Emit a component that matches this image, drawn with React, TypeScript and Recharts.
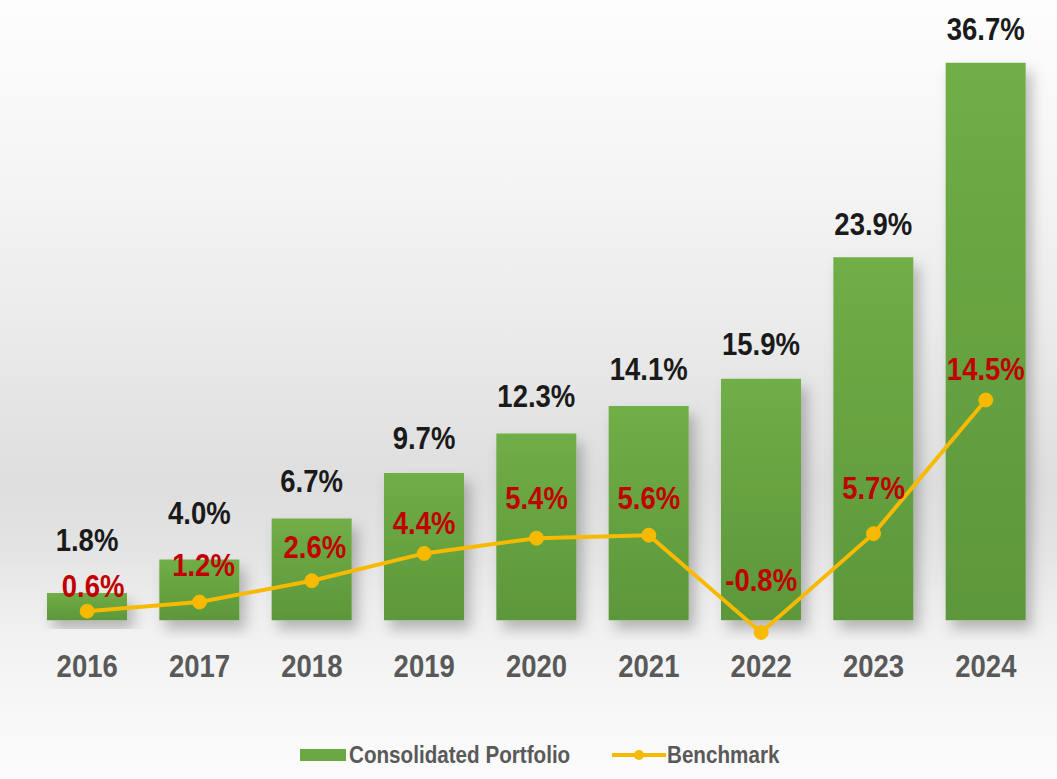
import React from 'react';
import { ComposedChart, Bar, Line, XAxis, YAxis, Legend, LabelList } from 'recharts';

const years = ['2016', '2017', '2018', '2019', '2020', '2021', '2022', '2023', '2024'];
const portfolio = [1.8, 4.0, 6.7, 9.7, 12.3, 14.1, 15.9, 23.9, 36.7];
const benchmark = [0.6, 1.2, 2.6, 4.4, 5.4, 5.6, -0.8, 5.7, 14.5];

// manual label nudges (px above the mark), like the hand-placed labels in the original
const barLift = [42, 35, 26, 24, 26, 26, 24, 22, 23];
const lineLift = [14, 26, 23, 19, 29, 26, 41, 35, 20];
const lineShift = [6, 4, 3, 0, 0, 0, 0, 0, 0];

const data = years.map((year, i) => ({ year, portfolio: portfolio[i], benchmark: benchmark[i] }));

const FONT = '"Liberation Sans", Arial, sans-serif';
const SQUEEZE = 0.86;
const GOLD = '#F7BA00';
const GREY = '#595959';

// narrow bold text, the original uses a condensed face
const NarrowText = ({ x, y, fill, size, anchor = 'middle', children }: any) => (
  <text transform={`translate(${x},${y}) scale(${SQUEEZE},1)`} x={0} y={0} textAnchor={anchor}
    fill={fill} fontFamily={FONT} fontWeight="bold" fontSize={size}>
    {children}
  </text>
);

const BarLabel = (props: any) => {
  const { x, y, width, value, index } = props;
  return <NarrowText x={x + width / 2} y={y - barLift[index]} fill="#1a1a1a" size={32}>{value.toFixed(1)}%</NarrowText>;
};

const LineLabel = (props: any) => {
  const { x, y, value, index } = props;
  return <NarrowText x={x + lineShift[index]} y={y - lineLift[index]} fill="#C00000" size={32}>{value.toFixed(1)}%</NarrowText>;
};

const YearTick = (props: any) => {
  const { x, y, payload } = props;
  return <NarrowText x={x} y={y + 23} fill={GREY} size={32}>{payload.value}</NarrowText>;
};

const LegendBox = () => (
  <svg width={1057} height={40} style={{ display: 'block' }}>
    <rect x={300} y={14} width={46} height={12} fill="#6AA843" />
    <NarrowText x={349} y={28} fill={GREY} size={24} anchor="start">Consolidated Portfolio</NarrowText>
    <line x1={612} y1={20} x2={666} y2={20} stroke={GOLD} strokeWidth={4} />
    <circle cx={639} cy={20} r={5} fill={GOLD} />
    <NarrowText x={667} y={28} fill={GREY} size={24} anchor="start">Benchmark</NarrowText>
  </svg>
);

export default function App() {
  return (
    <div style={{ position: 'absolute', left: 0, top: 0, width: 1057, height: 779,
      background: 'linear-gradient(to bottom, #fdfdfd 0%, #f7f7f7 18%, #ececec 40%, #dedede 62%, #e3e3e3 70%, #f0f0f0 80%, #f8f8f8 92%, #fbfbfb 100%)' }}>
      <ComposedChart width={1057} height={779} data={data}
        margin={{ top: 43, right: 15, bottom: 0, left: 31 }}>
        <defs>
          <linearGradient id="barFill" x1="0" y1="0" x2="0" y2="1">
            <stop offset="0%" stopColor="#70AE47" />
            <stop offset="100%" stopColor="#5C973A" />
          </linearGradient>
          <filter id="barShadow" x="-30%" y="-10%" width="160%" height="140%">
            <feDropShadow dx={6} dy={9} stdDeviation={7} floodColor="#000" floodOpacity={0.25} />
          </filter>
        </defs>
        <XAxis dataKey="year" axisLine={false} tickLine={false} height={99} tickMargin={8}
          tick={<YearTick />} />
        <YAxis hide domain={[-1.3, 38]} allowDataOverflow />
        <Legend verticalAlign="bottom" content={<LegendBox />}
          wrapperStyle={{ left: 0, width: 1057, bottom: 4 }} />
        <Bar dataKey="portfolio" name="Consolidated Portfolio" barSize={80} fill="url(#barFill)"
          filter="url(#barShadow)" isAnimationActive={false}>
          <LabelList dataKey="portfolio" content={<BarLabel />} />
        </Bar>
        <Line dataKey="benchmark" name="Benchmark" stroke={GOLD} strokeWidth={4}
          dot={{ r: 7, fill: GOLD, stroke: GOLD, strokeWidth: 1 }} activeDot={false}
          isAnimationActive={false}>
          <LabelList dataKey="benchmark" content={<LineLabel />} />
        </Line>
      </ComposedChart>
    </div>
  );
}
